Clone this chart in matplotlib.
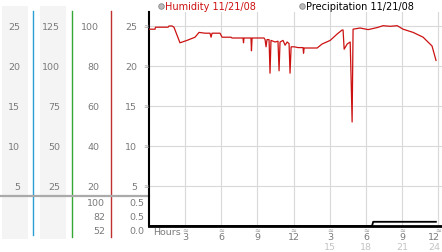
"""
Weather station style chart: humidity and precipitation for 11/21/08.
"""
import matplotlib
matplotlib.use('Agg')
import matplotlib.pyplot as plt

# hours since midnight and humidity readings
hours = [
    0.0, 0.5, 0.54, 1.58, 1.66, 1.91, 2.07, 2.57, 3.15, 3.82, 4.15, 4.65,
    5.06, 5.15, 5.23, 5.89, 6.06, 6.8, 6.89, 7.8, 7.84, 7.88, 8.46, 8.5,
    8.55, 9.54, 9.63, 9.71, 9.79, 9.96, 10.04, 10.12, 10.46, 10.7, 10.79,
    10.87, 11.12, 11.29, 11.46, 11.62, 11.7, 11.79, 12.04, 12.37, 12.78,
    12.82, 12.87, 13.95, 14.36, 15.03, 15.61, 16.02, 16.1, 16.19, 16.44,
    16.69, 16.77, 16.85, 16.93, 17.51, 18.18, 18.92, 19.42, 20.0, 20.59,
    21.08, 21.91, 22.74, 23.48, 23.81,
]
humidity = [
    24.6, 24.6, 24.85, 24.85, 25.0, 25.0, 24.85, 22.9, 23.2, 23.6, 24.2, 24.1,
    24.1, 23.6, 24.1, 24.1, 23.6, 23.6, 23.5, 23.5, 22.9, 23.5, 23.5, 21.9,
    23.5, 23.5, 23.3, 22.4, 23.3, 23.3, 19.1, 23.2, 23.0, 23.1, 19.4,
    23.0, 23.2, 22.6, 23.0, 22.8, 19.1, 22.4, 22.4, 22.3, 22.3,
    21.6, 22.25, 22.25, 22.75, 23.2, 24.0, 24.5, 24.5, 22.1, 22.75,
    23.0, 18.2, 13.0, 24.6, 24.75, 24.55, 24.8, 25.04, 24.96, 25.04,
    24.6, 24.2, 23.6, 22.5, 20.7,
]

precip_hours = [0.0, 18.5, 18.6, 23.8]
precip = [0.0, 0.0, 0.07, 0.07]

hour_labels = ['3', '6', '9', '12', '3', '6', '9', '12']
day_labels = ['', '', '', '', '15', '18', '21', '24']

# left hand scales: humidity-like, x5, x4, main
scale_ticks = [25, 20, 15, 10, 5]
scale_a = ['25', '20', '15', '10', '5']
scale_b = ['125', '100', '75', '50', '25']
scale_c = ['100', '80', '60', '40', '20']
scale_d = ['25', '20', '15', '10', '5']
lower_c = ['100', '82', '52']
lower_d = ['0.5', '0.5', '0.0']

W, H = 442, 253
GRAY_TEXT = '#7a7a7a'

fig = plt.figure(figsize=(W / 100, H / 100), dpi=100)

# pixel overlay for the decorations of the left panel
deco = fig.add_axes([0, 0, 1, 1], zorder=-1)
deco.set_xlim(0, W)
deco.set_ylim(H, 0)
deco.axis('off')

ax = fig.add_axes([149 / W, 1 - 227 / H, 293 / W, 214 / H])
ax.set_facecolor('none')
ax.set_xlim(0, 24 * 293 / 289.3)
ax.set_ylim(0, 26.75)

ax.set_xticks(range(3, 25, 3))
ax.set_yticks(scale_ticks)
ax.grid(True, color='#d9d9d9', linewidth=0.8)
ax.tick_params(length=0, labelbottom=False, labelleft=False)
for side in ('top', 'right'):
    ax.spines[side].set_visible(False)
ax.spines['left'].set_linewidth(1.5)
ax.spines['bottom'].set_linewidth(2)

ax.plot(hours, humidity, color='#cc1111', linewidth=0.9, zorder=3)

pax = ax.twinx()
pax.set_ylim(0, 0.5 * 214 / 30)
pax.axis('off')
pax.plot(precip_hours, precip, color='black', linewidth=1.3, zorder=3)

# background bands and coloured scale lines
for x0, x1 in [(2, 28), (40, 66)]:
    deco.fill_between([x0, x1], 7, 240, color='#f4f4f4', linewidth=0)
deco.plot([33, 33], [12, 236], color='#2b9fd3', linewidth=1)
deco.plot([72, 72], [12, 238], color='#33a833', linewidth=1)
deco.plot([111, 111], [12, 238], color='#c03030', linewidth=1)
deco.plot([0, 149], [197, 197], color='#aaaaaa', linewidth=1.6)

# left scale labels, aligned with the humidity gridlines
ytrans = ax.get_yaxis_transform()
for ticks, labels, px in [(scale_ticks, scale_a, 20), (scale_ticks, scale_b, 60),
                          (scale_ticks, scale_c, 99), (scale_ticks, scale_d, 137)]:
    for v, lab in zip(ticks, labels):
        ax.text((px - 149) / 293, v, lab, transform=ytrans, ha='right',
                va='center', fontsize=6.8, color=GRAY_TEXT, clip_on=False)
for v in scale_ticks:
    ax.text((146 - 149) / 293, v, '≈', transform=ytrans, ha='center',
            va='center', fontsize=5, color='#999999', clip_on=False)

for lab, y in zip(lower_c, [204, 218, 232]):
    deco.text(105, y, lab, ha='right', va='center', fontsize=6.8, color=GRAY_TEXT)
for lab, y in zip(lower_d, [204, 218, 232]):
    deco.text(144, y, lab, ha='right', va='center', fontsize=6.8, color=GRAY_TEXT)

# x axis labels
xtrans = ax.get_xaxis_transform()
last = len(hour_labels) - 1
for i, (h, lab, day) in enumerate(zip(range(3, 25, 3), hour_labels, day_labels)):
    ax.text(h, -4 / 214, '≈', transform=xtrans, ha='center', va='center',
            fontsize=5, color='#999999', clip_on=False)
    # keep the last labels inside the picture
    hx = h - 0.33 if i == last else h
    ax.text(hx, -11 / 214, lab, transform=xtrans, ha='center', va='center',
            fontsize=6.8, color=GRAY_TEXT, clip_on=False)
    if day:
        ax.text(hx, -20 / 214, day, transform=xtrans, ha='center', va='center',
                fontsize=6.8, color='#c4c4c4', clip_on=False)
deco.text(153, 233, 'Hours', ha='left', va='center', fontsize=6.8, color=GRAY_TEXT)

# legend
deco.plot([161], [6.5], marker='o', markersize=4, color='#bbbbbb',
          markeredgecolor='#888888', markeredgewidth=0.6)
deco.text(165, 6.5, 'Humidity 11/21/08', ha='left', va='center',
          fontsize=7, color='#cc1111')
deco.plot([302], [6.5], marker='o', markersize=4, color='#bbbbbb',
          markeredgecolor='#888888', markeredgewidth=0.6)
deco.text(306, 6.5, 'Precipitation 11/21/08', ha='left', va='center',
          fontsize=7, color='black')

fig.savefig('out.png', dpi=100)
